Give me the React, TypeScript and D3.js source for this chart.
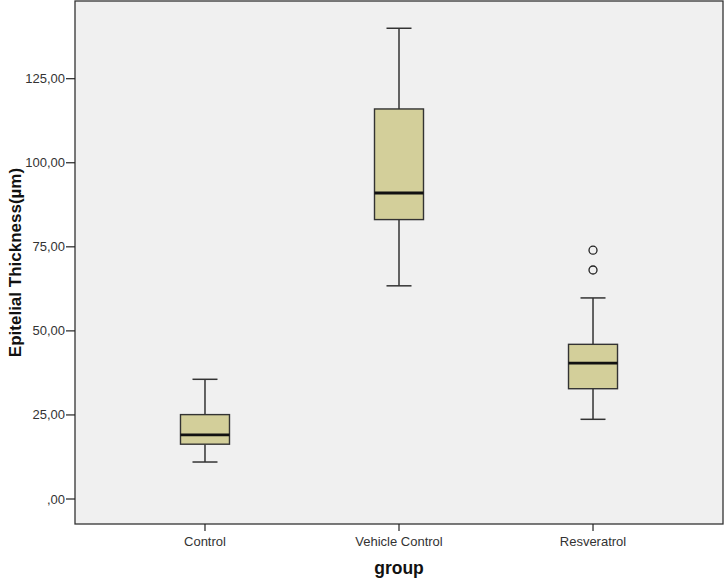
import React from "react";
import * as d3 from "d3";

const categories = ["Control", "Vehicle Control", "Resveratrol"];
const whiskerLow = [11.0, 63.4, 23.7];
const q1 = [16.3, 83.1, 32.8];
const medians = [19.1, 91.0, 40.4];
const q3 = [25.1, 116.0, 46.0];
const whiskerHigh = [35.6, 140.0, 59.8];
const outliers: number[][] = [[], [], [74.0, 68.1]];
const yTicks = [0, 25, 50, 75, 100, 125];
const yLabels = [",00", "25,00", "50,00", "75,00", "100,00", "125,00"];

export default function App() {
  const W = 725, H = 580;
  const left = 75, right = 723, top = 1, bottom = 524;
  const x = d3.scalePoint<string>().domain(categories).range([left, right]).padding(0.67);
  const y = d3.scaleLinear().domain([0, 125]).range([499, 78.7]);
  const boxW = 49;
  const capW = 25;
  const font = "'Liberation Sans', Arial, sans-serif";
  return (
    <svg width={W} height={H} style={{ position: "absolute", left: 0, top: 0 }} fontFamily={font}>
      <rect x={0} y={0} width={W} height={H} fill="#ffffff" />
      <rect x={left} y={top} width={right - left} height={bottom - top} fill="#f0f0f0" stroke="#333" strokeWidth={1.3} />
      {yTicks.map((t, i) => (
        <g key={t}>
          <line x1={left - 9} x2={left} y1={y(t)} y2={y(t)} stroke="#222" strokeWidth={1.2} />
          <text x={left - 10} y={y(t)} dy="0.35em" textAnchor="end" fontSize={13} fill="#333">{yLabels[i]}</text>
        </g>
      ))}
      {categories.map((c) => (
        <g key={c}>
          <line x1={x(c)} x2={x(c)} y1={bottom} y2={bottom + 7} stroke="#222" strokeWidth={1.2} />
          <text x={x(c)} y={546} textAnchor="middle" fontSize={13} fill="#333">{c}</text>
        </g>
      ))}
      {categories.map((c, i) => {
        const cx = x(c)!;
        return (
          <g key={"b" + c}>
            <line x1={cx} x2={cx} y1={y(whiskerHigh[i])} y2={y(q3[i])} stroke="#333" strokeWidth={1.5} />
            <line x1={cx} x2={cx} y1={y(q1[i])} y2={y(whiskerLow[i])} stroke="#333" strokeWidth={1.5} />
            <line x1={cx - capW / 2} x2={cx + capW / 2} y1={y(whiskerHigh[i])} y2={y(whiskerHigh[i])} stroke="#333" strokeWidth={1.5} />
            <line x1={cx - capW / 2} x2={cx + capW / 2} y1={y(whiskerLow[i])} y2={y(whiskerLow[i])} stroke="#333" strokeWidth={1.5} />
            <rect x={cx - boxW / 2} y={y(q3[i])} width={boxW} height={y(q1[i]) - y(q3[i])} fill="#d3cf9a" stroke="#333" strokeWidth={1.4} />
            <line x1={cx - boxW / 2} x2={cx + boxW / 2} y1={y(medians[i])} y2={y(medians[i])} stroke="#111" strokeWidth={2.8} />
            {outliers[i].map((o, j) => (
              <circle key={j} cx={cx} cy={y(o)} r={4} fill="none" stroke="#222" strokeWidth={1.3} />
            ))}
          </g>
        );
      })}
      <text transform={`translate(21,${(top + bottom) / 2}) rotate(-90)`} textAnchor="middle" fontSize={17} fontWeight="bold" fill="#111">Epitelial Thickness(µm)</text>
      <text x={(left + right) / 2} y={574} textAnchor="middle" fontSize={17.5} fontWeight="bold" fill="#111">group</text>
    </svg>
  );
}
